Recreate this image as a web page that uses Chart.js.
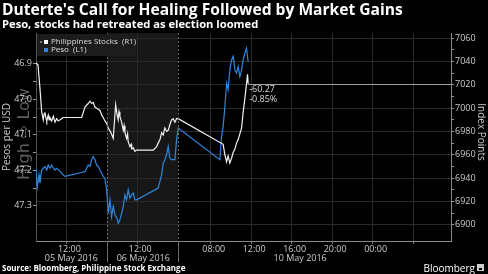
<!DOCTYPE html>
<html>
<head>
<meta charset="utf-8">
<script src="https://cdn.jsdelivr.net/npm/chart.js@4.4.1/dist/chart.umd.min.js"></script>
<style>
  html, body { margin: 0; padding: 0; background: #000; }
  canvas { display: block; }
</style>
</head>
<body>
<canvas id="myChart" width="488" height="274"></canvas>
<script>
// x values are hours on the compressed trading-session axis
// (05 May session 0-7, 06 May session 7-14, 10 May from 14 on)
const stockTimes = [0, 0.2, 0.4, 0.56, 0.72, 0.8, 0.89, 1.0, 1.06, 1.21, 1.3, 1.38, 1.55, 1.71, 1.88, 2.04, 2.2, 2.37, 2.53, 2.69, 2.86,
  4.51, 4.84, 5.16, 5.33, 5.5, 5.66, 5.82, 5.99, 6.15, 6.32, 6.49, 6.64, 6.81, 6.98,
  7.14, 7.4, 7.63, 7.87, 8.0, 8.12, 8.2, 8.29, 8.46, 8.62, 8.7, 8.79, 8.95, 9.05, 9.11, 9.28, 9.4, 9.45, 9.61, 9.77, 9.94, 10.1,
  11.58, 11.92, 12.07, 12.25, 12.41, 12.57, 12.73, 12.9, 13.06, 13.23, 13.4, 13.55, 13.72, 13.89, 14.05,
  18.49, 18.66, 18.83, 18.98, 19.15, 19.32, 19.48, 19.65, 19.81, 19.97, 20.14, 20.31, 20.46, 20.63, 20.8, 20.9, 20.96];
const stockValues = [7039, 7037, 7016, 6997, 6990, 6995, 6996, 6991, 6989, 6994, 6990, 6992, 6989, 6993, 6988, 6991, 6989, 6990, 6991, 6992, 6992,
  6992, 7001, 7004, 7006, 7004, 7005, 7001, 7000, 6999, 6998, 6994, 6992, 6989, 6987,
  6983, 6979, 6974, 7003, 6995, 6990, 6997, 6993, 6988, 6981, 6985, 6979, 6974, 6978, 6971, 6967, 6969, 6965, 6966, 6963, 6964, 6964,
  6964, 6967, 6970, 6973, 6979, 6977, 6983, 6980, 6981, 6986, 6990, 6991, 6988, 6991, 6991,
  6969, 6960, 6954, 6959, 6953, 6957, 6962, 6965, 6970, 6973, 6978, 6983, 6996, 7008, 7021, 7029, 7021];

const pesoTimes = [0, 0.13, 0.3, 0.39, 0.56, 0.72, 0.89, 1.06, 1.21, 1.38, 1.55, 1.71, 1.88, 2.04, 2.37, 2.69, 2.86,
  4.51, 4.84, 5.16, 5.33, 5.5, 5.66, 5.82, 5.99, 6.15, 6.32, 6.49, 6.64, 6.81, 6.98,
  7.14, 7.31, 7.47, 7.63, 7.8, 8.0, 8.12, 8.29, 8.46, 8.62, 8.79, 8.95, 9.11, 9.28, 9.45, 9.61, 9.77, 9.94,
  12.07, 12.41, 12.57, 12.73, 12.9, 13.06, 13.23, 13.4, 13.72, 13.89, 14.05,
  18.16, 18.33, 18.49, 18.66, 18.83, 18.98, 19.15, 19.32, 19.48, 19.65, 19.81, 19.97, 20.14, 20.31, 20.46, 20.63, 20.8, 20.96];
const pesoValues = [47.199, 47.246, 47.213, 47.236, 47.199, 47.194, 47.189, 47.199, 47.185, 47.194, 47.185, 47.194, 47.199, 47.194, 47.203, 47.213, 47.217,
  47.206, 47.203, 47.185, 47.189, 47.170, 47.161, 47.170, 47.185, 47.189, 47.199, 47.208, 47.217, 47.222, 47.255,
  47.321, 47.283, 47.330, 47.302, 47.325, 47.335, 47.349, 47.339, 47.321, 47.302, 47.269, 47.283, 47.255, 47.278, 47.269, 47.264, 47.283, 47.283,
  47.250, 47.213, 47.180, 47.170, 47.156, 47.133, 47.166, 47.170, 47.170, 47.114, 47.081,
  47.170, 47.105, 47.077, 47.020, 46.954, 46.973, 46.917, 46.889, 46.879, 46.917, 46.926, 46.908, 46.936, 46.917, 46.889, 46.870, 46.856, 46.894];

const pesoTicks = [46.9, 47.0, 47.1, 47.2, 47.3];
const stockTicks = [6900, 6920, 6940, 6960, 6980, 7000, 7020, 7040, 7060];
const timeTicks = [3, 10, 17.26, 21.26, 25.26, 29.26, 33.26, 37.26];
const timeTickLabels = ['12:00', '12:00', '08:00', '12:00', '16:00', '20:00', '00:00', ''];
const dayLabels = ['05 May 2016', '06 May 2016', '10 May 2016'];
const dayLabelAt = [3.5, 10.6, 26.1];
const dayBreaks = [7, 14];
const lastChange = ['-60.27', '-0.85%'];

Chart.defaults.font.family = "'Open Sans', sans-serif";
Chart.defaults.color = '#cccccc';

function withMinor(list, step) {
    const out = [];
    list.forEach((v, i) => {
        out.push({ value: v, major: true });
        if (i < list.length - 1) out.push({ value: v + step, major: false });
    });
    return out;
}

const decor = {
    id: 'decor',
    beforeDraw(chart) {
        const { ctx, chartArea: a, scales: { x } } = chart;
        ctx.save();
        ctx.fillStyle = '#000';
        ctx.fillRect(0, 0, chart.width, chart.height);
        const s0 = x.getPixelForValue(dayBreaks[0]);
        const s1 = x.getPixelForValue(dayBreaks[1]);
        ctx.fillStyle = '#171717';
        ctx.fillRect(s0, a.top, s1 - s0, a.bottom - a.top);

        ctx.translate(25, 134);
        ctx.rotate(-Math.PI / 2);
        ctx.font = '16px "DejaVu Sans"';
        ctx.fillStyle = '#5e5e5e';
        ctx.textAlign = 'center';
        ctx.textBaseline = 'middle';
        ctx.fillText('High \u21E8 Low', 0, 0);
        ctx.restore();
    },
    afterDatasetsDraw(chart) {
        const { ctx, chartArea: a, scales: { x, yR } } = chart;
        ctx.save();

        // session separators
        ctx.strokeStyle = '#6a6a6a';
        ctx.lineWidth = 1;
        dayBreaks.forEach(v => {
            const px = Math.round(x.getPixelForValue(v)) + 0.5;
            ctx.setLineDash([2, 2]);
            ctx.beginPath(); ctx.moveTo(px, a.top); ctx.lineTo(px, a.bottom); ctx.stroke();
            ctx.setLineDash([]);
            ctx.beginPath(); ctx.moveTo(px, a.bottom); ctx.lineTo(px, a.bottom + 21); ctx.stroke();
        });

        // last value line and change
        const lastT = stockTimes[stockTimes.length - 1];
        const lastV = stockValues[stockValues.length - 1];
        const lx = x.getPixelForValue(lastT);
        const ly = Math.round(yR.getPixelForValue(lastV)) + 0.5;
        ctx.strokeStyle = '#a0a0a0';
        ctx.beginPath(); ctx.moveTo(lx, ly); ctx.lineTo(a.right, ly); ctx.stroke();
        ctx.fillStyle = '#dddddd';
        ctx.font = '9px "Open Sans"';
        ctx.textAlign = 'left';
        ctx.textBaseline = 'middle';
        ctx.fillText(lastChange[0], lx + 1, ly + 5);
        ctx.fillText(lastChange[1], lx + 1, ly + 15);

        // legend
        ctx.fillStyle = '#1c1c1c';
        ctx.fillRect(37, 34, 99, 22);
        ctx.fillStyle = '#777';
        ctx.fillRect(40, 41, 2, 2);
        ctx.fillStyle = '#ffffff';
        ctx.fillRect(44, 40, 4, 4);
        ctx.fillStyle = '#2e86de';
        ctx.fillRect(44, 48, 4, 4);
        ctx.fillStyle = '#dddddd';
        ctx.font = '8px "Open Sans"';
        ctx.fillText(chart.data.datasets[0].label, 51, 42);
        ctx.fillText(chart.data.datasets[1].label, 51, 50);

        // date labels under the time ticks
        ctx.fillStyle = '#cccccc';
        ctx.font = '9px "Open Sans"';
        ctx.textAlign = 'center';
        dayLabels.forEach((d, i) => ctx.fillText(d, x.getPixelForValue(dayLabelAt[i]), 258));

        // axis titles
        ctx.font = '10px "Open Sans"';
        ctx.save();
        ctx.translate(7, 137);
        ctx.rotate(-Math.PI / 2);
        ctx.fillText('Pesos per USD', 0, 0);
        ctx.restore();
        ctx.save();
        ctx.translate(481, 132);
        ctx.rotate(Math.PI / 2);
        ctx.fillText('Index Points', 0, 0);
        ctx.restore();

        // titles and footer
        ctx.textAlign = 'left';
        ctx.textBaseline = 'alphabetic';
        ctx.fillStyle = '#ffffff';
        ctx.font = 'bold 15.6px "Open Sans"';
        ctx.fillText("Duterte's Call for Healing Followed by Market Gains", 2, 15);
        ctx.font = 'bold 11.2px "Open Sans"';
        ctx.fillText('Peso, stocks had retreated as election loomed', 2, 28);
        ctx.font = 'bold 8px "Open Sans"';
        ctx.fillText('Source: Bloomberg, Philippine Stock Exchange', 2, 271);
        ctx.font = '10px "Open Sans"';
        ctx.textAlign = 'right';
        ctx.fillText('Bloomberg', 475, 272);
        ctx.fillStyle = '#cccccc';
        ctx.fillRect(477, 264, 7, 7);
        ctx.fillStyle = '#000';
        ctx.fillRect(479, 268, 3, 2);
        ctx.restore();
    }
};

new Chart('myChart', {
    type: 'line',
    data: {
        datasets: [{
            label: 'Philippines Stocks  (R1)',
            data: stockTimes.map((t, i) => ({ x: t, y: stockValues[i] })),
            borderColor: '#f2f2f2',
            borderWidth: 1.2,
            pointRadius: 0,
            yAxisID: 'yR',
        }, {
            label: 'Peso  (L1)',
            data: pesoTimes.map((t, i) => ({ x: t, y: pesoValues[i] })),
            borderColor: '#2e86de',
            borderWidth: 1.2,
            pointRadius: 0,
            yAxisID: 'yL',
        }],
    },
    options: {
        responsive: false,
        animation: false,
        layout: { padding: { top: 33, left: 0, right: 0, bottom: 0 } },
        plugins: {
            legend: { display: false },
            tooltip: { enabled: false },
        },
        scales: {
            x: {
                type: 'linear',
                min: 0,
                max: 41,
                afterBuildTicks: s => { s.ticks = timeTicks.map(v => ({ value: v })); },
                afterFit: s => { s.height = 33; },
                grid: { color: '#2a2a2a', tickColor: '#777', tickLength: 3 },
                border: { color: '#888' },
                ticks: {
                    autoSkip: false,
                    maxRotation: 0,
                    padding: 0,
                    labelOffset: 3,
                    font: { size: 9 },
                    callback: (v, i) => timeTickLabels[i],
                },
            },
            yL: {
                position: 'left',
                reverse: true,
                min: 46.813,
                max: 47.399,
                afterBuildTicks: s => { s.ticks = withMinor(pesoTicks, 0.05); },
                afterFit: s => { s.width = 36; },
                grid: { drawOnChartArea: false, tickColor: '#999', tickLength: 3 },
                border: { color: '#555' },
                ticks: {
                    autoSkip: false,
                    padding: 1,
                    font: { size: 9 },
                    callback: (v, i, t) => t[i].major ? v.toFixed(1) : '',
                },
            },
            yR: {
                position: 'right',
                min: 6886,
                max: 7064.5,
                afterBuildTicks: s => { s.ticks = withMinor(stockTicks, 10); },
                afterFit: s => { s.width = 37; },
                grid: {
                    color: c => c.tick && c.tick.major ? '#2a2a2a' : 'rgba(0,0,0,0)',
                    tickColor: '#999',
                    tickLength: 3,
                },
                border: { color: '#888' },
                ticks: {
                    autoSkip: false,
                    padding: 1,
                    font: { size: 9 },
                    callback: (v, i, t) => t[i].major ? String(v) : '',
                },
            },
        },
    },
    plugins: [decor],
});
</script>
</body>
</html>
